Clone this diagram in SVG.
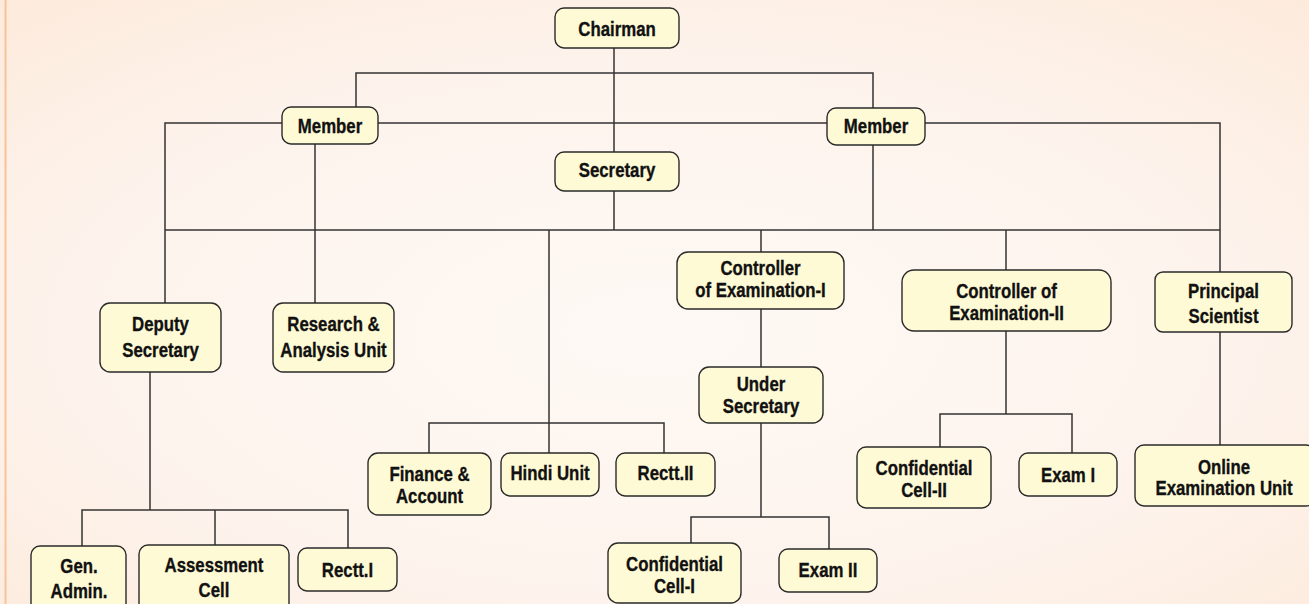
<svg xmlns="http://www.w3.org/2000/svg" width="1309" height="604" viewBox="0 0 1309 604">
<defs>
<radialGradient id="bg" cx="0.5" cy="0.55" r="0.75">
<stop offset="0" stop-color="#fef9f5"/>
<stop offset="0.6" stop-color="#fdf3ec"/>
<stop offset="1" stop-color="#fdeadb"/>
</radialGradient>
<style>
.box{fill:#fffad6;stroke:#2a2a2a;stroke-width:1.4}
.lbl{font-family:"Liberation Sans","Arial",sans-serif;font-weight:bold;font-size:21px;fill:#111;stroke:#111;stroke-width:0.35;text-anchor:middle}
.con{fill:none;stroke:#333;stroke-width:1.5}
</style>
</defs>
<rect x="0" y="0" width="1309" height="604" fill="url(#bg)"/>
<line x1="5.5" y1="0" x2="5.5" y2="604" stroke="#f8c39a" stroke-width="2"/>
<g id="connectors" class="con">
<path d="M614 48 V152"/>
<path d="M356 107 V73 H873 V108"/>
<path d="M165 303 V123 H282"/>
<path d="M378 123 H827"/>
<path d="M925 123 H1220 V272"/>
<path d="M315 144 V303"/>
<path d="M614 191 V230"/>
<path d="M873 145 V230"/>
<path d="M165 230 H1220"/>
<path d="M549 230 V453"/>
<path d="M761 230 V252"/>
<path d="M1006 230 V270"/>
<path d="M150 372 V510"/>
<path d="M82 546 V510 H348 V548"/>
<path d="M215 510 V545"/>
<path d="M429 453 V423 H664 V453"/>
<path d="M761 309 V367"/>
<path d="M761 423 V517"/>
<path d="M691 543 V517 H829 V549"/>
<path d="M1006 331 V414"/>
<path d="M940 447 V414 H1072 V453"/>
<path d="M1220 332 V445"/>
</g>
<g id="chairman"><rect class="box" x="555" y="8" width="124" height="40" rx="9"/><text class="lbl" transform="translate(617 36) scale(0.8 1)">Chairman</text></g>
<g id="member-left"><rect class="box" x="282" y="107" width="96" height="37" rx="9"/><text class="lbl" transform="translate(330 133) scale(0.8 1)">Member</text></g>
<g id="member-right"><rect class="box" x="827" y="108" width="98" height="37" rx="9"/><text class="lbl" transform="translate(876 133) scale(0.8 1)">Member</text></g>
<g id="secretary"><rect class="box" x="555" y="152" width="124" height="39" rx="9"/><text class="lbl" transform="translate(617 177) scale(0.8 1)">Secretary</text></g>
<g id="deputy-secretary"><rect class="box" x="100" y="303" width="121" height="69" rx="10"/><text class="lbl" transform="translate(160.5 331) scale(0.8 1)">Deputy</text><text class="lbl" transform="translate(160.5 357) scale(0.8 1)">Secretary</text></g>
<g id="research"><rect class="box" x="273" y="303" width="121" height="69" rx="10"/><text class="lbl" transform="translate(333.5 331) scale(0.8 1)">Research &amp;</text><text class="lbl" transform="translate(333.5 357) scale(0.8 1)">Analysis Unit</text></g>
<g id="controller-1"><rect class="box" x="677" y="252" width="167" height="57" rx="11"/><text class="lbl" transform="translate(760.5 275) scale(0.8 1)">Controller</text><text class="lbl" transform="translate(760.5 297) scale(0.8 1)">of Examination-I</text></g>
<g id="controller-2"><rect class="box" x="902" y="270" width="209" height="61" rx="12"/><text class="lbl" transform="translate(1006.5 298) scale(0.8 1)">Controller of</text><text class="lbl" transform="translate(1006.5 320) scale(0.8 1)">Examination-II</text></g>
<g id="principal-scientist"><rect class="box" x="1155" y="272" width="137" height="60" rx="8"/><text class="lbl" transform="translate(1223.5 298) scale(0.8 1)">Principal</text><text class="lbl" transform="translate(1223.5 323) scale(0.8 1)">Scientist</text></g>
<g id="under-secretary"><rect class="box" x="699" y="367" width="124" height="56" rx="10"/><text class="lbl" transform="translate(761 391) scale(0.8 1)">Under</text><text class="lbl" transform="translate(761 413) scale(0.8 1)">Secretary</text></g>
<g id="finance"><rect class="box" x="368" y="453" width="123" height="62" rx="10"/><text class="lbl" transform="translate(429.5 481) scale(0.8 1)">Finance &amp;</text><text class="lbl" transform="translate(429.5 503) scale(0.8 1)">Account</text></g>
<g id="hindi-unit"><rect class="box" x="501" y="453" width="98" height="43" rx="9"/><text class="lbl" transform="translate(550 480) scale(0.8 1)">Hindi Unit</text></g>
<g id="rectt-2"><rect class="box" x="616" y="453" width="99" height="43" rx="9"/><text class="lbl" transform="translate(665.5 480) scale(0.8 1)">Rectt.II</text></g>
<g id="confidential-1"><rect class="box" x="608" y="543" width="133" height="60" rx="10"/><text class="lbl" transform="translate(674.5 571) scale(0.8 1)">Confidential</text><text class="lbl" transform="translate(674.5 593) scale(0.8 1)">Cell-I</text></g>
<g id="exam-2"><rect class="box" x="779" y="549" width="98" height="43" rx="9"/><text class="lbl" transform="translate(828 577) scale(0.8 1)">Exam II</text></g>
<g id="gen-admin"><rect class="box" x="31" y="546" width="95" height="70" rx="9"/><text class="lbl" transform="translate(79 573) scale(0.8 1)">Gen.</text><text class="lbl" transform="translate(79 598) scale(0.8 1)">Admin.</text></g>
<g id="assessment-cell"><rect class="box" x="139" y="545" width="150" height="71" rx="9"/><text class="lbl" transform="translate(214 572) scale(0.8 1)">Assessment</text><text class="lbl" transform="translate(214 597) scale(0.8 1)">Cell</text></g>
<g id="rectt-1"><rect class="box" x="298" y="548" width="99" height="43" rx="9"/><text class="lbl" transform="translate(347.5 577) scale(0.8 1)">Rectt.I</text></g>
<g id="confidential-2"><rect class="box" x="857" y="447" width="134" height="61" rx="9"/><text class="lbl" transform="translate(924 475) scale(0.8 1)">Confidential</text><text class="lbl" transform="translate(924 497) scale(0.8 1)">Cell-II</text></g>
<g id="exam-1"><rect class="box" x="1019" y="453" width="98" height="43" rx="9"/><text class="lbl" transform="translate(1068 482) scale(0.8 1)">Exam I</text></g>
<g id="online-exam"><rect class="box" x="1135" y="445" width="180" height="61" rx="9"/><text class="lbl" transform="translate(1224 474) scale(0.8 1)">Online</text><text class="lbl" transform="translate(1224 495) scale(0.8 1)">Examination Unit</text></g>
</svg>
